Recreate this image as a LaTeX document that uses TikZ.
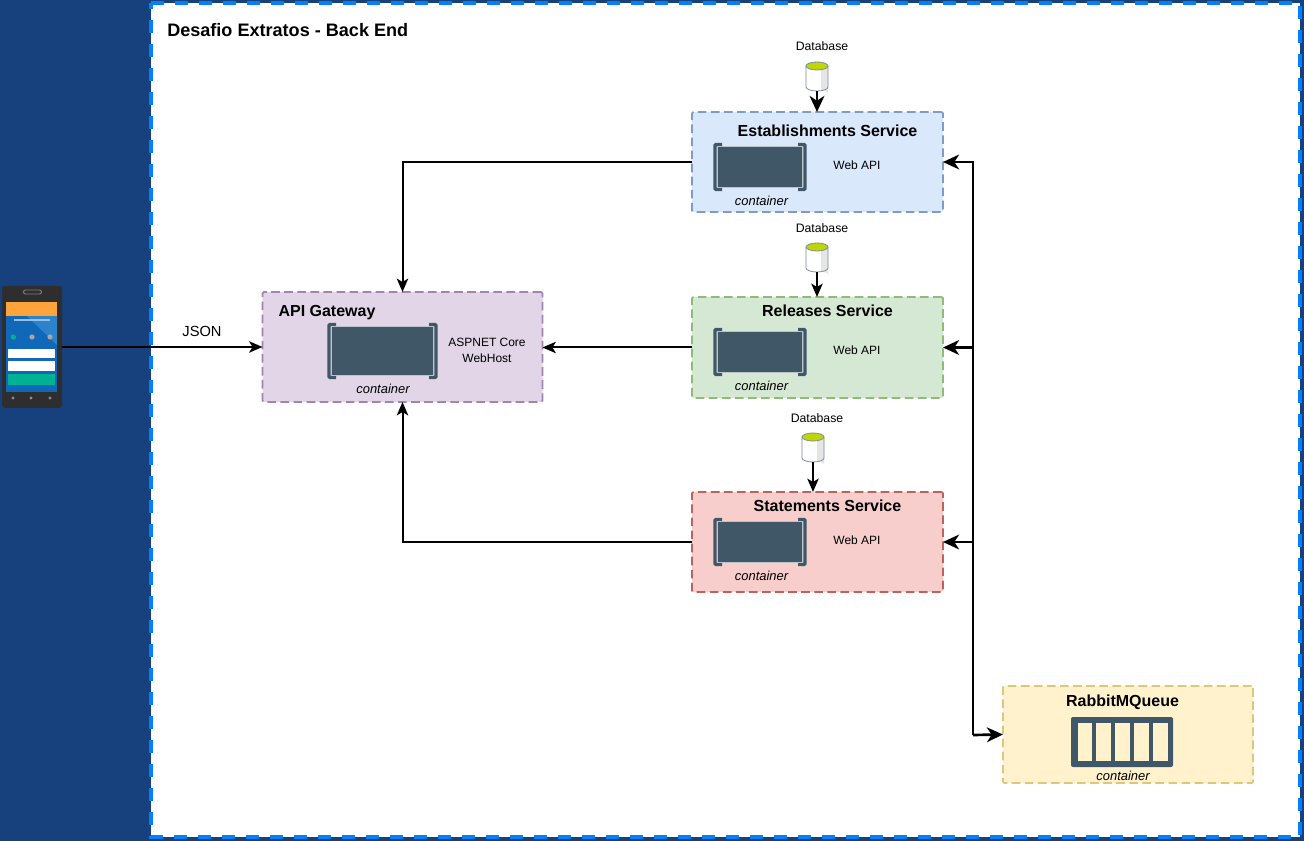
\documentclass[tikz,border=0pt]{standalone}
\usepackage{fontspec}
\setmainfont{Liberation Sans}
\usetikzlibrary{arrows.meta}
\definecolor{navy}{HTML}{17417D}
\definecolor{frameblue}{HTML}{007FFF}
\definecolor{slate}{HTML}{3F5767}
\definecolor{estfill}{HTML}{DAE8FC}\definecolor{estline}{HTML}{7F9CC8}
\definecolor{relfill}{HTML}{D5E8D4}\definecolor{relline}{HTML}{8FBB77}
\definecolor{stafill}{HTML}{F8CECC}\definecolor{staline}{HTML}{BE625E}
\definecolor{apifill}{HTML}{E1D5E7}\definecolor{apiline}{HTML}{A184B0}
\definecolor{rabfill}{HTML}{FFF2CC}\definecolor{rabline}{HTML}{E0C678}
\definecolor{dbline}{HTML}{7A8CA8}\definecolor{dbtop}{HTML}{BFD600}
\definecolor{scrblue}{HTML}{1268B8}\definecolor{scrlight}{HTML}{2B83CC}
\definecolor{scrbar}{HTML}{FFA43A}\definecolor{scrteal}{HTML}{00B294}
\tikzset{
  x=0.75pt,y=-0.75pt,
  svcbox/.style={draw=#1,line width=1.4pt,dash pattern=on 6.5pt off 3.3pt,rounded corners=1pt,inner sep=0pt,outer sep=0pt,anchor=north west},
  ttl/.style={font=\fontsize{12}{14}\selectfont\bfseries,inner sep=0pt},
  bigttl/.style={font=\fontsize{13.55}{15}\selectfont\bfseries,inner sep=0pt},
  small/.style={font=\fontsize{9}{12.5}\selectfont,inner sep=0pt,align=center},
  dbtag/.style={font=\fontsize{9.2}{12}\selectfont,inner sep=0pt},
  ctag/.style={font=\fontsize{9.7}{11}\selectfont\itshape,inner sep=0pt},
  conn/.style={draw=black,line width=1.5pt,-{Stealth[length=10pt,width=8.5pt,inset=2.5pt]}},
  bus/.style={draw=black,line width=2pt,-{Stealth[length=12pt,width=11pt,inset=3.5pt]}},
}
\newcommand{\cbox}[4]{%
  \draw[slate,line width=2.6pt,rounded corners=0.8pt] (#1+9,#2+2.5) -- (#1+2,#2+2.5) -- (#1+2,#4-2.5) -- (#1+9,#4-2.5);
  \draw[slate,line width=2.6pt,rounded corners=0.8pt] (#3-9,#2+2.5) -- (#3-2,#2+2.5) -- (#3-2,#4-2.5) -- (#3-9,#4-2.5);
  \fill[slate] (#1+5,#2+5) rectangle (#3-5,#4-5);
  \draw[white!65!slate,line width=0.7pt] (#1+4.8,#2+4.8) rectangle (#3-4.8,#4-4.8);
}
\newcommand{\dbnode}[3]{%
  \node[minimum width=16.5pt,minimum height=22.5pt,inner sep=0pt,outer sep=0pt] (#1) at (#2,#3+15) {};
  \fill[white] (#2-11,#3+5) -- (#2-11,#3+26) arc[start angle=180,end angle=360,x radius=11,y radius=-4] -- (#2+11,#3+5) -- cycle;
  \fill[black!10] (#2+4,#3+5) -- (#2+4,#3+29.6) arc[start angle=270,end angle=360,x radius=7,y radius=3.4] -- (#2+11,#3+5) -- cycle;
  \draw[dbline,line width=0.6pt] (#2-11,#3+5) -- (#2-11,#3+26) arc[start angle=180,end angle=360,x radius=11,y radius=-4] -- (#2+11,#3+5);
  \draw[fill=dbtop,draw=dbline,line width=0.6pt] (#2,#3+5) ellipse[x radius=11,y radius=4];
}
\begin{document}
\begin{tikzpicture}
\useasboundingbox (0,0) rectangle (1304,841);
\fill[navy] (0,0) rectangle (1304,841);
\node[fill=white,minimum width=861.75pt,minimum height=625.5pt,inner sep=0pt,outer sep=0pt,anchor=north west] (frame) at (151,3) {};
\draw[frameblue,line width=3pt,dash pattern=on 9.5pt off 8.5pt,dash phase=5pt] (151,3) rectangle (1300,837);
\node[bigttl,anchor=west] (title) at (167,30) {Desafio Extratos - Back End};

% phone
\node[minimum width=45pt,minimum height=91.5pt,inner sep=0pt,outer sep=0pt,anchor=north west,fill=black!82,rounded corners=2pt] (phone) at (2,286) {};
\draw[black!50,line width=0.7pt,rounded corners=1.5pt] (23.5,290) rectangle (41.5,294);
\fill[scrblue] (6,302) rectangle (57,392);
\fill[scrlight] (27,316) -- (57,316) -- (57,345) -- cycle;
\fill[scrbar] (6,302) rectangle (57,316);
\fill[white!50!scrlight] (14,319.5) rectangle (50,321.5);
\fill[scrteal] (13.3,337) circle[radius=2.6];
\fill[black!35] (32,337) circle[radius=2.6];
\fill[black!35] (50,337) circle[radius=2.6];
\fill[white] (8,349) rectangle (55,358);
\fill[white] (8,361) rectangle (55,371);
\fill[scrteal] (8,374) rectangle (55,385);
\foreach \px in {13,31,50} \fill[black!45] (\px,398) circle[radius=1.6];

% service boxes
\node[svcbox=estline,fill=estfill,minimum width=188.25pt,minimum height=75pt] (est) at (692,112) {};
\node[svcbox=relline,fill=relfill,minimum width=188.25pt,minimum height=75.75pt] (rel) at (692,297) {};
\node[svcbox=staline,fill=stafill,minimum width=188.25pt,minimum height=75pt] (sta) at (692,492) {};
\node[svcbox=apiline,fill=apifill,minimum width=210pt,minimum height=82.5pt] (api) at (262.5,292) {};
\node[svcbox=rabline,fill=rabfill,minimum width=187.5pt,minimum height=72.75pt] (rab) at (1003,686) {};

\node[ttl] (estt) at (827.5,131) {Establishments Service};
\node[ttl] (relt) at (827.5,311) {Releases Service};
\node[ttl] (stat) at (827.5,506) {Statements Service};
\node[ttl] (apit) at (327,313) {API Gateway};
\node[ttl] (rabt) at (1122.5,702) {RabbitMQueue};

\cbox{713}{142}{807}{192}
\cbox{713}{327}{807}{377}
\cbox{713}{517}{807}{567}
\cbox{327}{322}{438}{380}

\node[ctag] (estc) at (761.5,200.5) {container};
\node[ctag] (relc) at (761.5,385.5) {container};
\node[ctag] (stac) at (761.5,575.5) {container};
\node[ctag] (apic) at (383,388.5) {container};
\node[ctag] (rabc) at (1123,775.5) {container};

\node[small] (esta) at (857,165.5) {Web API};
\node[small] (rela) at (857,350.5) {Web API};
\node[small] (staa) at (857,540.5) {Web API};
\node[small] (apia) at (487,350.5) {ASPNET Core\\WebHost};

% rabbit queue icon
\fill[slate,rounded corners=1.5pt] (1071,717) rectangle (1173,767);
\foreach \cx/\cy in {1078/1092,1096/1111,1115/1130,1134/1149,1153/1168}
  \fill[rabfill] (\cx,723) rectangle (\cy,761);

% databases
\dbnode{dba}{817}{61}
\dbnode{dbb}{817}{242}
\dbnode{dbc}{813}{432}
\node[dbtag] (dbal) at (822,46) {Database};
\node[dbtag] (dbbl) at (822,228) {Database};
\node[dbtag] (dbcl) at (817,418) {Database};

% connectors
\node[font=\fontsize{11}{12}\selectfont,inner sep=0pt] (json) at (202,331.5) {JSON};
\path[conn] (phone.east) -- (phone.east-|api.west);
\path[conn] (est.west) -| (api.north);
\path[conn] (rel.west) -- (rel.west-|api.east);
\path[conn] (sta.west) -| (api.south);
\path[bus] (dba.south) -- (dba.south|-est.north);
\path[conn] (dbb.south) -- (dbb.south|-rel.north);
\path[conn] (dbc.south) -- (dbc.south|-sta.north);
\coordinate (hub) at (973,735);
\path[bus] (hub) -- (rab.west);
\path[bus] (hub) |- (est.east);
\path[bus] (hub) |- (rel.east);
\path[bus] (hub) |- (sta.east);
\end{tikzpicture}
\end{document}
